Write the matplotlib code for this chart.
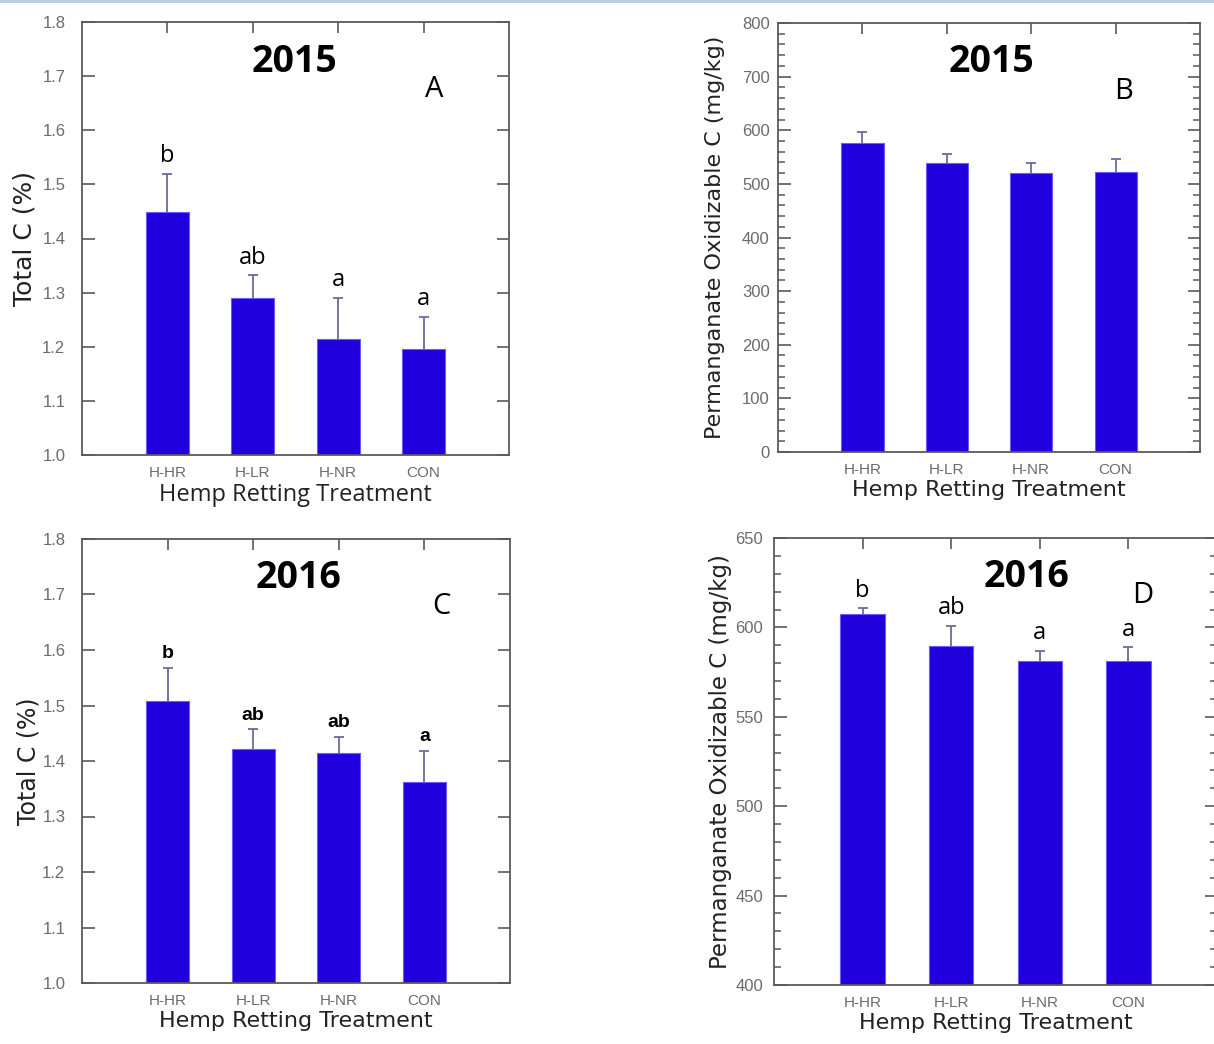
import matplotlib
matplotlib.use("Agg")
import matplotlib.pyplot as plt
from matplotlib.ticker import MultipleLocator
from matplotlib.patches import Rectangle

# data
treatments = ["H-HR", "H-LR", "H-NR", "CON"]

total_c_2015 = [1.449, 1.290, 1.214, 1.196]
total_c_2015_err = [0.071, 0.042, 0.076, 0.059]
total_c_2015_letters = ["b", "ab", "a", "a"]

pox_c_2015 = [576, 539, 520, 522]
pox_c_2015_err = [21, 17, 19, 25]

total_c_2016 = [1.508, 1.422, 1.415, 1.363]
total_c_2016_err = [0.060, 0.035, 0.029, 0.055]
total_c_2016_letters = ["b", "ab", "ab", "a"]

pox_c_2016 = [607.6, 589.4, 581.0, 581.0]
pox_c_2016_err = [3.2, 11.5, 6.0, 8.0]
pox_c_2016_letters = ["b", "ab", "a", "a"]

BAR_COLOR = "#2200dd"
EDGE_COLOR = "#6a5cff"
ERR_COLOR = "#6e6a9c"
SPINE_COLOR = "#5a5a5a"
TICK_TEXT = "#6b6b6b"

fig = plt.figure(figsize=(12.14, 10.44), dpi=100)

# thin light-blue band along the very top of the picture
fig.patches.append(Rectangle((0, 1 - 3 / 1044), 1, 3 / 1044, transform=fig.transFigure,
                             facecolor="#b9cde6", edgecolor="none"))


def draw_panel(rect, values, errors, ylim, major, minor, ytick_fmt, ylabel,
               year, tag, year_xy, tag_xy, letters=None, letter_style=None,
               ylabel_size=17, ylabel_pad=2, ytick_pad=12, xlabel_font="DejaVu Sans",
               xlabel_size=16, ylabel_font="DejaVu Sans"):
    ax = fig.add_axes(rect)
    x = list(range(len(treatments)))
    ax.bar(x, values, width=0.5, color=BAR_COLOR, edgecolor=EDGE_COLOR,
           linewidth=0.8, zorder=2)
    # upper error bars only
    eb = ax.errorbar(x, values, yerr=[[0] * len(errors), errors], fmt="none",
                     ecolor=ERR_COLOR, elinewidth=1.3, capsize=3.5, capthick=1.3, zorder=3)
    eb[1][0].set_visible(False)

    ax.set_xlim(-1, 4)
    ax.set_ylim(*ylim)
    ax.yaxis.set_major_locator(MultipleLocator(major))
    if minor:
        ax.yaxis.set_minor_locator(MultipleLocator(minor))
    ax.set_yticklabels([ytick_fmt.format(v) for v in ax.get_yticks()])
    ax.set_xticks(x)
    ax.set_xticklabels(treatments)

    for s in ax.spines.values():
        s.set_color(SPINE_COLOR)
        s.set_linewidth(1.3)
    ax.tick_params(axis="y", which="major", direction="in", length=9, width=1.2,
                   color=SPINE_COLOR, left=True, right=True, pad=ytick_pad,
                   labelsize=12, labelcolor=TICK_TEXT)
    ax.tick_params(axis="y", which="minor", direction="in", length=5, width=1.1,
                   color=SPINE_COLOR, left=True, right=True)
    ax.tick_params(axis="x", direction="in", length=8, width=1.2, color=SPINE_COLOR,
                   top=True, bottom=False, pad=8, labelsize=11, labelcolor=TICK_TEXT)
    for lab in ax.get_yticklabels() + ax.get_xticklabels():
        lab.set_family("Liberation Sans")

    ax.set_xlabel("Hemp Retting Treatment", fontsize=xlabel_size, family=xlabel_font,
                  color="#222222", labelpad=2)
    ax.set_ylabel(ylabel, fontsize=ylabel_size, family=ylabel_font, color="#222222",
                  labelpad=ylabel_pad)

    ax.text(year_xy[0], year_xy[1], year, transform=ax.transAxes, ha="center",
            va="center", fontsize=27, fontweight="bold", family="Open Sans", color="black")
    ax.text(tag_xy[0], tag_xy[1], tag, transform=ax.transAxes, ha="center",
            va="center", fontsize=21, family="Open Sans", color="black")

    if letters:
        for xi, v, e, t in zip(x, values, errors, letters):
            ax.annotate(t, (xi, v + e), xytext=(0, 4), textcoords="offset points",
                        ha="center", va="bottom", color="black", **letter_style)
    return ax


calibri_like = dict(fontsize=17, family="Open Sans")
arial_bold = dict(fontsize=14, family="Liberation Sans", fontweight="bold")

# A: total C 2015
draw_panel([82 / 1214, 1 - 455 / 1044, 427 / 1214, 433 / 1044],
           total_c_2015, total_c_2015_err, (1.0, 1.8), 0.1, None, "{:.1f}",
           "Total C (%)", "2015", "A", (0.497, 0.908), (0.824, 0.843),
           letters=total_c_2015_letters, letter_style=calibri_like,
           ylabel_size=18, ylabel_pad=4, ytick_pad=12,
           xlabel_font="Open Sans", xlabel_size=17)

# B: permanganate oxidizable C 2015
draw_panel([778 / 1214, 1 - 452 / 1044, 422 / 1214, 429 / 1044],
           pox_c_2015, pox_c_2015_err, (0, 800), 100, 20, "{:.0f}",
           "Permanganate Oxidizable C (mg/kg)", "2015", "B", (0.505, 0.909), (0.82, 0.841),
           ylabel_size=16, ylabel_pad=12, ytick_pad=6)

# C: total C 2016
draw_panel([82 / 1214, 1 - 983 / 1044, 428 / 1214, 444 / 1044],
           total_c_2016, total_c_2016_err, (1.0, 1.8), 0.1, None, "{:.1f}",
           "Total C (%)", "2016", "C", (0.505, 0.912), (0.839, 0.849),
           letters=total_c_2016_letters, letter_style=arial_bold,
           ylabel_size=17, ylabel_pad=1, ytick_pad=12)

# D: permanganate oxidizable C 2016
draw_panel([774 / 1214, 1 - 985 / 1044, 443 / 1214, 447 / 1044],
           pox_c_2016, pox_c_2016_err, (400, 650), 50, 10, "{:.0f}",
           "Permanganate Oxidizable C (mg/kg)", "2016", "D", (0.571, 0.913), (0.833, 0.872),
           letters=pox_c_2016_letters, letter_style=calibri_like,
           ylabel_size=16.5, ylabel_pad=2, ytick_pad=8)

fig.savefig("out.png", dpi=100)
